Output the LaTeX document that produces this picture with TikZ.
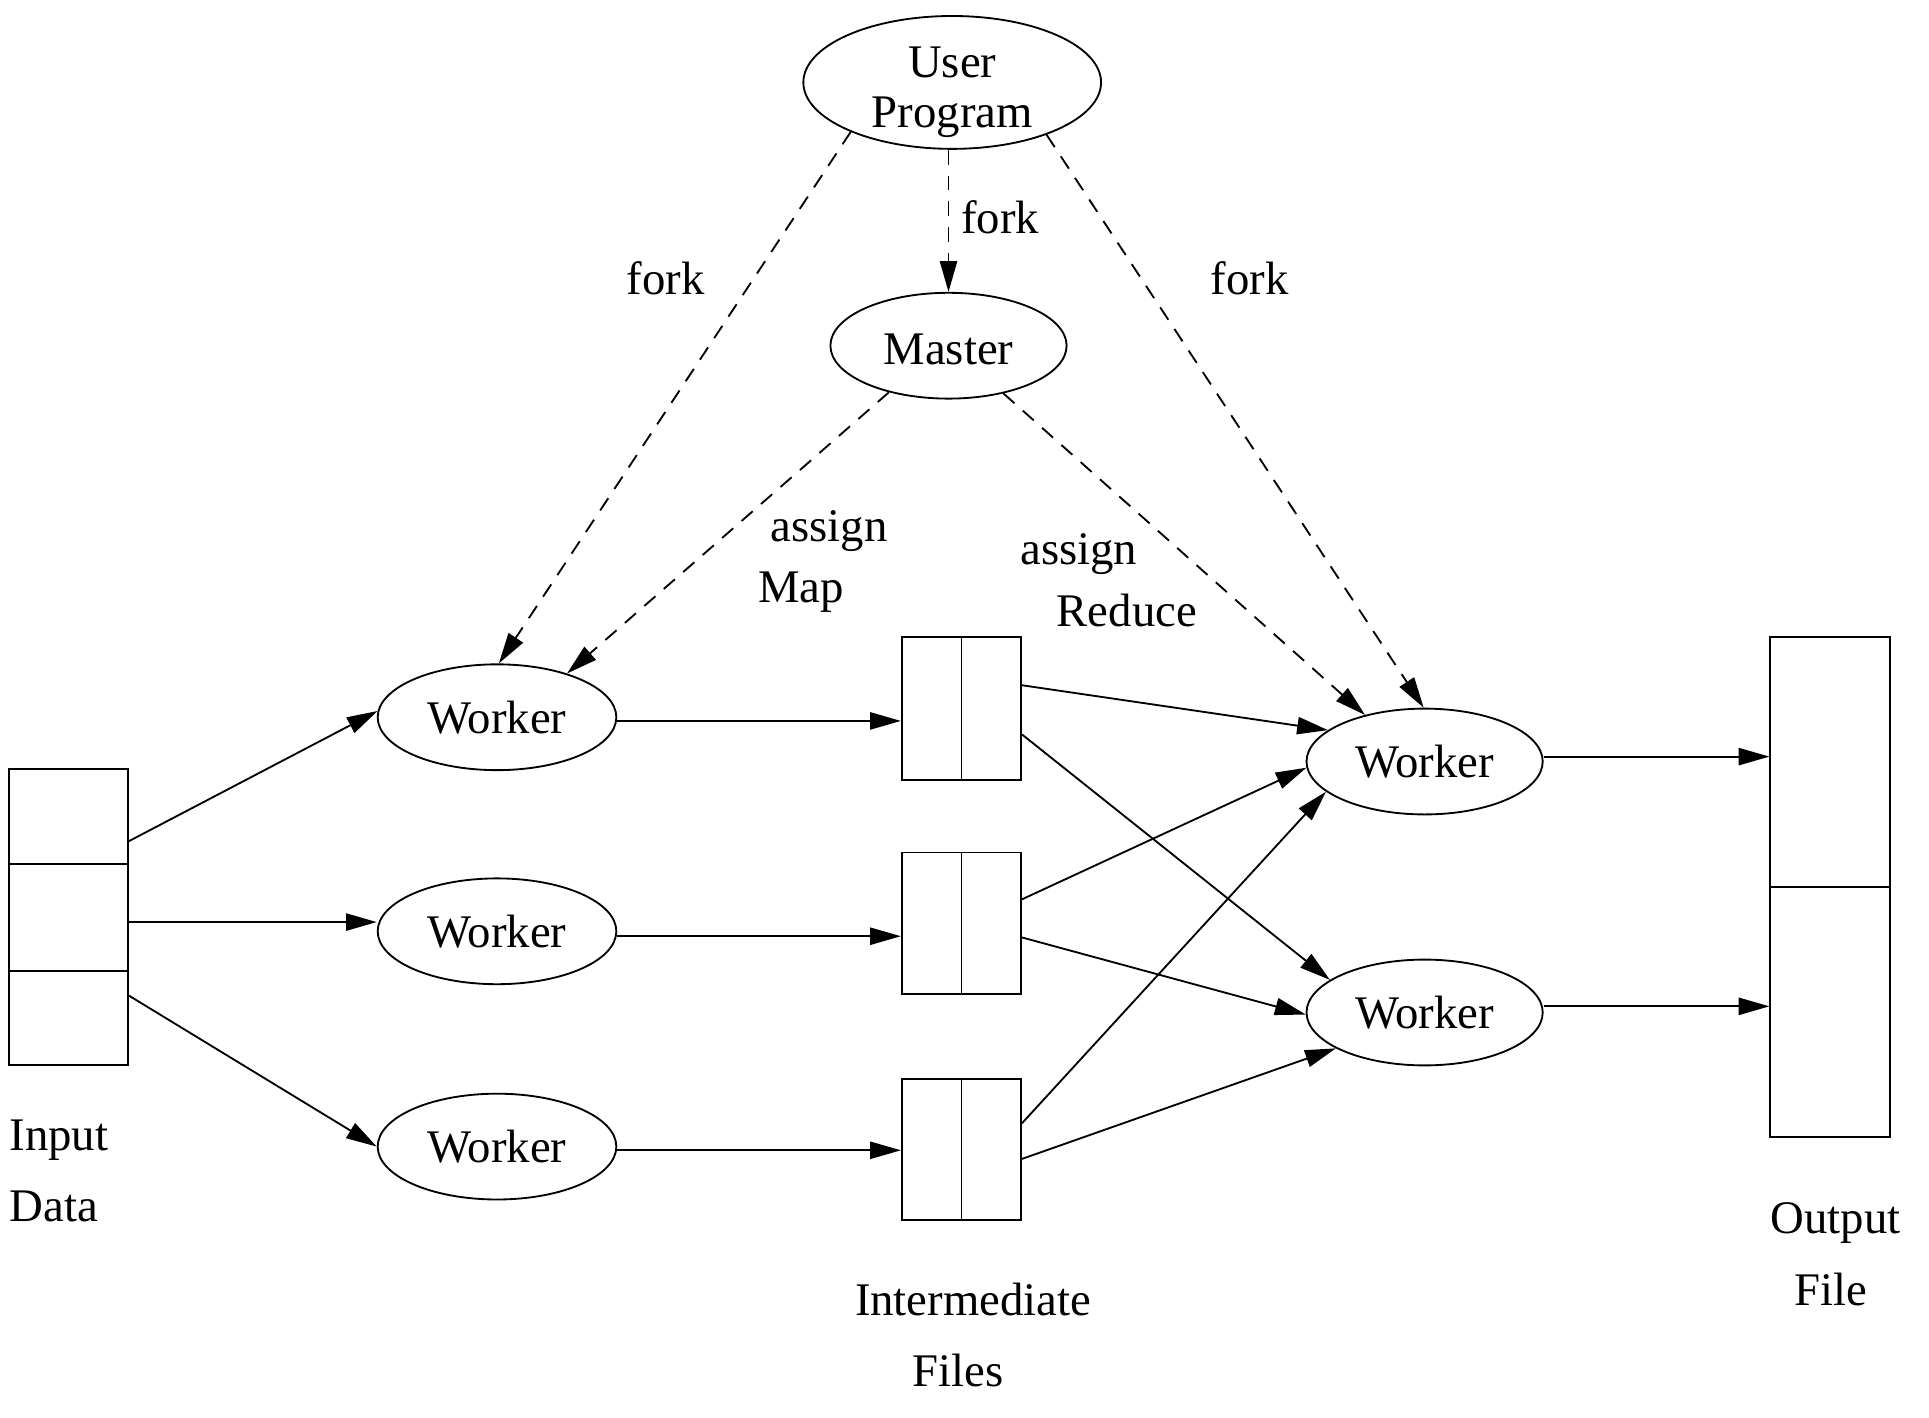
\documentclass[tikz,border=0pt]{standalone}
\usepackage{fontspec}
\setmainfont{Liberation Serif}
\usetikzlibrary{shapes.geometric,arrows.meta}
\begin{document}
\begin{tikzpicture}[x=1pt,y=-1pt,
  line width=1.5pt,
  font=\fontsize{38}{41}\selectfont,
  ell/.style={draw,ellipse,inner sep=0pt,minimum width=194pt,minimum height=86pt},
  cell/.style={draw,rectangle,inner sep=0pt,minimum width=97pt},
  lbl/.style={inner sep=0pt,anchor=base},
  arr/.style={-{Triangle[length=25pt,width=14pt]}},
  dsh/.style={arr,dash pattern=on 12pt off 9pt}]
\useasboundingbox (0,0) rectangle (1568,1152);
% ellipses
\node[ell,minimum width=242pt,minimum height=108pt,
  label={[align=center,inner sep=0pt,yshift=-8pt]center:User\\Program}] (UP) at (774,67) {};
\node[ell,minimum width=192pt,
  label={[inner sep=0pt,yshift=-3pt]center:Master}] (M) at (771,281) {};
\node[ell] (W1) at (404,583) {Worker};
\node[ell] (W2) at (404,757) {Worker};
\node[ell] (W3) at (404,932) {Worker};
\node[ell,minimum width=192pt] (R1) at (1158,619) {Worker};
\node[ell,minimum width=192pt] (R2) at (1158,823) {Worker};
% input data
\node[cell,minimum height=77pt] (in1) at (55.5,663.5) {};
\node[cell,minimum height=87pt] (in2) at (55.5,745.5) {};
\node[cell,minimum height=77pt] (in3) at (55.5,827.5) {};
% intermediate files
\node[cell,minimum height=116pt] (f1) at (781.5,576) {};
\node[cell,minimum height=115pt] (f2) at (781.5,750.5) {};
\node[cell,minimum height=115pt] (f3) at (781.5,934.5) {};
\draw (f1.north) -- (f1.south);
\draw (f2.north) -- (f2.south);
\draw (f3.north) -- (f3.south);
% output file
\node[cell,minimum height=203pt] (o1) at (1487.5,619.5) {};
\node[cell,minimum height=203pt] (o2) at (1487.5,822.5) {};
% labels
\node[lbl] (lf1) at (541,239) {fork};
\node[lbl] (lf2) at (813,190) {fork};
\node[lbl] (lf3) at (1016,239) {fork};
\node[lbl] (la1) at (674,440) {assign};
\node[lbl] (lm) at (651,490) {Map};
\node[lbl] (la2) at (877,459) {assign};
\node[lbl] (lr) at (916,509) {Reduce};
\node[lbl,anchor=base west] (lin) at (7,935) {Input};
\node[lbl,anchor=base west] (ldat) at (7,993) {Data};
\node[lbl] (lint) at (791,1069) {Intermediate};
\node[lbl] (lfil) at (779,1127) {Files};
\node[lbl] (lout) at (1492,1003) {Output};
\node[lbl] (lfile) at (1488,1061) {File};
% dashed connectors
\draw[dsh] (UP.206) -- (W1.88);
\draw[dsh] (M.north |- UP.south) -- (M.north);
\draw[dsh] (UP.331) -- (R1.91);
\draw[dsh] (M.218) -- (W1.32.5);
\draw[dsh] (M.319) -- (R1.142);
% solid connectors
\draw[arr] ([yshift=19pt]in1.south east) -- (W1.177);
\draw[arr] ([yshift=-4pt]in2.east) -- ([yshift=-4pt]in2.east -| W2.west);
\draw[arr] ([yshift=-21pt]in3.north east) -- (W3.west);
\draw[arr] ([yshift=-3pt]W1.east) -- ([yshift=-3pt]W1.east -| f1.west);
\draw[arr] ([yshift=-4pt]W2.east) -- ([yshift=-4pt]W2.east -| f2.west);
\draw[arr] ([yshift=-3pt]W3.east) -- ([yshift=-3pt]W3.east -| f3.west);
\draw[arr] ([yshift=19pt]f1.east) -- (R1.162.5);
\draw[arr] ([yshift=-21pt]f1.east) -- (R2.161.8);
\draw[arr] ([yshift=19.5pt]f2.east) -- (R1.183);
\draw[arr] ([yshift=-11.5pt]f2.east) -- (R2.181);
\draw[arr] ([yshift=21.5pt]f3.east) -- (R1.197.5);
\draw[arr] ([yshift=-7.5pt]f3.east) -- (R2.202);
\draw[arr] ([yshift=4pt]R1.east) -- ([yshift=4pt]R1.east -| o1.west);
\draw[arr] ([yshift=5pt]R2.east) -- ([yshift=5pt]R2.east -| o2.west);
\end{tikzpicture}
\end{document}
